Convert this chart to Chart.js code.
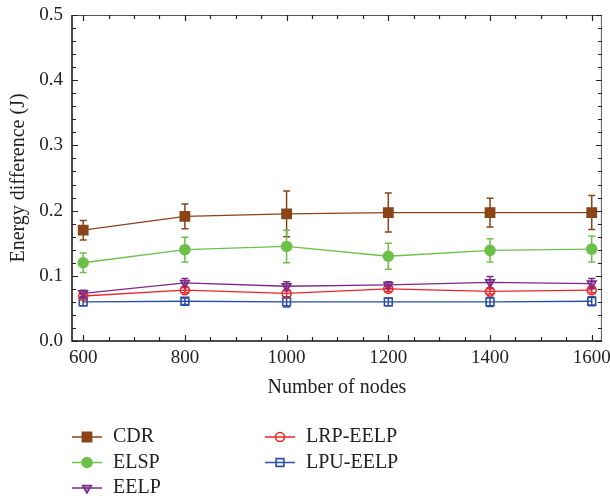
<!DOCTYPE html>
<html>
<head>
<meta charset="utf-8">
<script src="https://cdn.jsdelivr.net/npm/chart.js@4"></script>
<style>
  html, body { margin: 0; padding: 0; background: #fff; }
</style>
</head>
<body>
<canvas id="myChart" width="610" height="502"></canvas>
<script>
const nodes = [600, 800, 1000, 1200, 1400, 1600]
const xTicks = [600, 800, 1000, 1200, 1400, 1600]
const yTicks = [0, 0.1, 0.2, 0.3, 0.4, 0.5]

const cdr = [0.170, 0.191, 0.195, 0.197, 0.197, 0.197]
const cdrErr = [0.015, 0.019, 0.035, 0.030, 0.022, 0.026]
const elsp = [0.120, 0.140, 0.145, 0.130, 0.139, 0.141]
const elspErr = [0.015, 0.019, 0.025, 0.020, 0.018, 0.020]
const eelp = [0.073, 0.089, 0.084, 0.086, 0.090, 0.088]
const eelpErr = [0.005, 0.007, 0.007, 0.005, 0.009, 0.008]
const lrp = [0.069, 0.078, 0.073, 0.080, 0.076, 0.078]
const lrpErr = [0.004, 0.004, 0.005, 0.004, 0.004, 0.004]
const lpu = [0.060, 0.061, 0.060, 0.060, 0.060, 0.061]
const lpuErr = [0.006, 0.005, 0.008, 0.006, 0.007, 0.007]

const serif = "'Liberation Serif', 'DejaVu Serif', serif"
const textColor = '#222'

function series(label, values, errs, color, style, radius, fill, rotation) {
  return {
    label,
    data: nodes.map((x, i) => ({ x, y: values[i] })),
    errors: errs,
    borderColor: color,
    backgroundColor: color,
    borderWidth: 1.3,
    pointStyle: style,
    pointRadius: radius,
    pointHoverRadius: radius,
    pointRotation: rotation || 0,
    pointBackgroundColor: fill,
    pointBorderColor: color,
    pointBorderWidth: 1.6,
    tension: 0
  }
}

const datasets = [
  series('CDR', cdr, cdrErr, '#8a4418', 'rect', 6.5, '#8a4418'),
  series('ELSP', elsp, elspErr, '#6cc04a', 'circle', 5, '#6cc04a'),
  series('EELP', eelp, eelpErr, '#7b2a86', 'triangle', 5, 'rgba(123,42,134,0.45)', 180),
  series('LRP-EELP', lrp, lrpErr, '#ee2529', 'circle', 4.5, 'rgba(255,255,255,0)'),
  series('LPU-EELP', lpu, lpuErr, '#2b4fa6', 'rect', 5.5, 'rgba(255,255,255,0)')
]

// error bars, drawn under the markers
const errorBars = {
  id: 'errorBars',
  beforeDatasetsDraw(chart) {
    const ctx = chart.ctx
    const xs = chart.scales.x, ys = chart.scales.y
    chart.data.datasets.forEach(ds => {
      ctx.save()
      ctx.strokeStyle = ds.borderColor
      ctx.lineWidth = 1.5
      ds.data.forEach((p, i) => {
        const e = ds.errors[i]
        const px = xs.getPixelForValue(p.x)
        const top = ys.getPixelForValue(p.y + e)
        const bot = ys.getPixelForValue(p.y - e)
        ctx.beginPath()
        ctx.moveTo(px, top); ctx.lineTo(px, bot)
        ctx.moveTo(px - 3.5, top); ctx.lineTo(px + 3.5, top)
        ctx.moveTo(px - 3.5, bot); ctx.lineTo(px + 3.5, bot)
        ctx.stroke()
      })
      ctx.restore()
    })
  }
}

// frame with inward ticks on all four sides
const frame = {
  id: 'frame',
  afterDatasetsDraw(chart) {
    const ctx = chart.ctx
    const { left, right, top, bottom } = chart.chartArea
    const xs = chart.scales.x, ys = chart.scales.y
    ctx.save()
    ctx.strokeStyle = '#555'
    ctx.lineWidth = 1
    ctx.beginPath()
    ctx.moveTo(left, top + 0.5); ctx.lineTo(right, top + 0.5)
    ctx.moveTo(right - 0.5, top); ctx.lineTo(right - 0.5, bottom)
    ctx.stroke()
    ctx.strokeStyle = '#111'
    ctx.lineWidth = 1.5
    ctx.beginPath()
    ctx.moveTo(left, top); ctx.lineTo(left, bottom); ctx.lineTo(right, bottom)
    ctx.stroke()

    ctx.lineWidth = 1.2
    ctx.strokeStyle = '#222'
    ctx.beginPath()
    for (let v = 600; v <= 1600; v += 50) {
      const px = Math.round(xs.getPixelForValue(v)) + 0.5
      const len = v % 200 === 0 ? 6 : 4
      ctx.moveTo(px, bottom); ctx.lineTo(px, bottom - len)
      ctx.moveTo(px, top); ctx.lineTo(px, top + len)
    }
    for (let k = 0; k <= 25; k++) {
      const py = Math.round(ys.getPixelForValue(k * 0.02)) + 0.5
      const len = k % 5 === 0 ? 6 : 4
      ctx.moveTo(left, py); ctx.lineTo(left + len, py)
      ctx.moveTo(right, py); ctx.lineTo(right - len, py)
    }
    ctx.stroke()
    ctx.restore()
  }
}

// two-column legend under the axis title
const columnLegend = {
  id: 'columnLegend',
  afterDraw(chart) {
    const ctx = chart.ctx
    const area = chart.chartArea
    const spots = [[0, 0], [0, 1], [0, 2], [1, 0], [1, 1]]
    chart.data.datasets.forEach((ds, i) => {
      const [col, row] = spots[i]
      const x0 = area.left + col * 193
      const y = area.bottom + 96 + row * 25.5
      ctx.save()
      ctx.strokeStyle = ds.borderColor
      ctx.lineWidth = 1.5
      ctx.beginPath()
      ctx.moveTo(x0, y); ctx.lineTo(x0 + 30, y)
      ctx.stroke()
      ctx.fillStyle = ds.pointBackgroundColor
      ctx.strokeStyle = ds.pointBorderColor
      ctx.lineWidth = ds.pointBorderWidth
      Chart.helpers.drawPoint(ctx, {
        pointStyle: ds.pointStyle,
        rotation: ds.pointRotation,
        radius: ds.pointRadius,
        borderWidth: ds.pointBorderWidth
      }, x0 + 15, y)
      ctx.fillStyle = textColor
      ctx.font = '20px ' + serif
      ctx.textBaseline = 'middle'
      ctx.textAlign = 'left'
      ctx.fillText(ds.label, x0 + 41, y)
      ctx.restore()
    })
  }
}

const config = {
  type: 'line',
  data: { datasets },
  options: {
    responsive: false,
    animation: false,
    layout: { padding: { top: 15, right: 8, bottom: 101, left: 0 } },
    plugins: {
      legend: { display: false },
      tooltip: { enabled: false }
    },
    scales: {
      x: {
        type: 'linear',
        min: 578,
        max: 1620,
        grid: { display: false, drawTicks: false },
        border: { display: false },
        afterBuildTicks: s => { s.ticks = xTicks.map(value => ({ value })) },
        afterFit: s => { s.height = 60; s.paddingLeft = 0; s.paddingRight = 0 },
        ticks: {
          font: { family: serif, size: 19 },
          color: textColor,
          padding: 6,
          maxRotation: 0,
          callback: v => String(v)
        },
        title: {
          display: true,
          text: 'Number of nodes',
          font: { family: serif, size: 20 },
          color: textColor,
          padding: { top: 0, bottom: 1 }
        }
      },
      y: {
        min: 0,
        max: 0.5,
        grid: { display: false, drawTicks: false },
        border: { display: false },
        afterBuildTicks: s => { s.ticks = yTicks.map(value => ({ value })) },
        afterFit: s => { s.width = 72; s.paddingTop = 0; s.paddingBottom = 0 },
        ticks: {
          font: { family: serif, size: 19 },
          color: textColor,
          padding: 9,
          callback: v => v.toFixed(1)
        },
        title: {
          display: true,
          text: 'Energy difference (J)',
          font: { family: serif, size: 20 },
          color: textColor,
          padding: { top: 7, bottom: 0 }
        }
      }
    }
  },
  plugins: [errorBars, frame, columnLegend]
}

const myChart = new Chart(document.getElementById('myChart').getContext('2d'), config)
</script>
</body>
</html>
